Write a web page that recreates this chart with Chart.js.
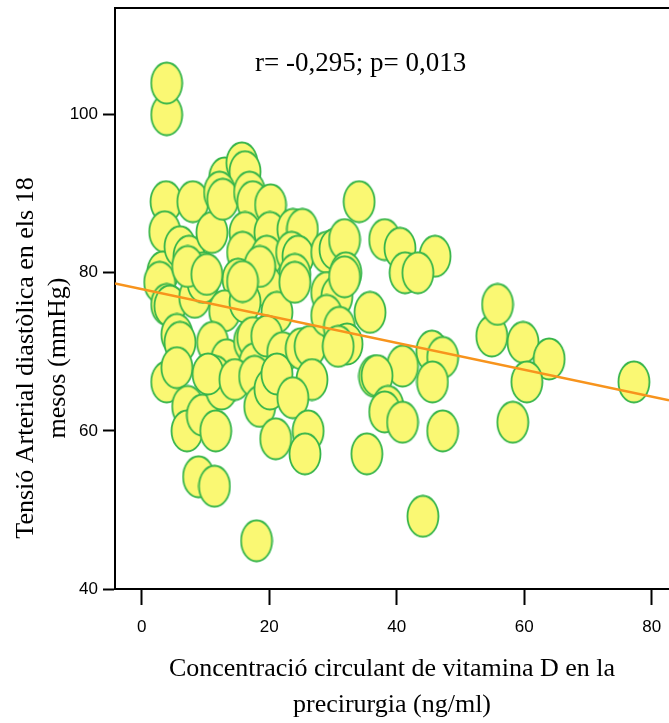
<!DOCTYPE html>
<html>
<head>
<meta charset="utf-8">
<script src="https://cdn.jsdelivr.net/npm/chart.js@4.4.0/dist/chart.umd.min.js"></script>
<style>
  html, body { margin: 0; padding: 0; background: #fff; overflow: hidden; }
  #chart { display: block; }
</style>
</head>
<body>
<canvas id="chart" width="669" height="723"></canvas>
<script>
// Vitamina D (ng/ml) i tensió diastòlica (mmHg), llegits del gràfic
const vitaminD = [
  3.9, 3.9, 3.8, 8.0, 3.6, 3.3, 6.0, 7.4, 11.0, 13.0,
  15.7, 16.2, 12.2, 12.7, 16.9, 17.4, 20.2, 16.2, 20.1, 23.7,
  25.2, 15.8, 19.6, 23.5, 24.5, 24.0, 15.1, 9.6, 19.6, 29.0,
  30.3, 31.8, 32.0, 34.1, 38.1, 40.5, 46.0, 41.3, 43.3, 29.0,
  30.6, 35.8, 2.8, 3.9, 4.4, 5.5, 6.0, 3.9, 5.5, 7.2,
  7.1, 9.5, 11.6, 8.9, 11.4, 18.0, 8.3, 9.6, 7.2, 10.2,
  13.0, 16.2, 11.1, 13.3, 11.5, 12.5, 10.4, 16.9, 17.4, 17.7,
  14.6, 17.7, 18.5, 20.1, 21.0, 21.2, 19.6, 22.1, 21.2, 25.0,
  26.4, 26.7, 23.7, 26.1, 25.6, 24.0, 18.5, 15.8, 31.8, 29.0,
  31.0, 32.2, 30.8, 36.5, 35.3, 45.5, 47.2, 40.9, 36.9, 45.6,
  38.6, 38.1, 40.9, 47.2, 44.1, 54.9, 55.8, 59.8, 63.9, 60.4,
  58.2, 77.2
];
const tensio = [
  100, 104, 89, 89, 85.2, 80.1, 83.3, 82.1, 85.1, 92,
  93.9, 92.8, 90.2, 89.3, 90.2, 89, 88.6, 85.1, 85.1, 85.5,
  85.5, 82.6, 82.1, 82.6, 82.1, 79.8, 79.2, 80.0, 78.3, 82.6,
  83.0, 84.2, 80.0, 89.0, 84.2, 83.1, 82.1, 80.0, 80.0, 77.5,
  77.0, 75.0, 78.8, 76.0, 75.8, 72.2, 71.2, 66.2, 68.0, 63.1,
  60.0, 62.0, 60.0, 54.2, 53.0, 46.1, 76.9, 78.8, 80.8, 79.8,
  75.2, 76.3, 71.2, 69.0, 66.9, 65.3, 67.2, 71.3, 71.8, 68.5,
  66.5, 66.9, 63.1, 65.3, 59.0, 75.0, 72.0, 69.9, 67.2, 70.4,
  70.7, 66.5, 64.2, 60.0, 57.1, 78.8, 80.8, 78.9, 79.5, 74.6,
  73.1, 71.0, 70.7, 66.9, 57.1, 70.1, 69.3, 68.2, 67.0, 66.2,
  63.1, 62.4, 61.1, 60.0, 49.2, 72.0, 76.0, 71.2, 69.1, 66.2,
  61.1, 66.2
];
const xTicks = [0, 20, 40, 60, 80];
const yTicks = [40, 60, 80, 100];
const regIntercept = 77.94;
const regSlope = -0.170;
const xMin = -4.2, xMax = 82.7;
const yMin = 40, yMax = 113.5;
const xTitle = ["Concentració circulant de vitamina D en la", "precirurgia (ng/ml)"];
const yTitle = ["Tensió Arterial diastòlica en els 18", "mesos (mmHg)"];
const statsText = "r= -0,295; p= 0,013";

// marcador el·líptic groc amb vora verda
function makeEllipse() {
  const c = document.createElement("canvas");
  c.width = 34;
  c.height = 44;
  const g = c.getContext("2d");
  g.beginPath();
  g.ellipse(17, 22, 15.5, 20.5, 0, 0, Math.PI * 2);
  g.fillStyle = "#FAF873";
  g.fill();
  g.lineWidth = 1.8;
  g.strokeStyle = "#36B54A";
  g.stroke();
  return c;
}

const points = vitaminD.map((v, i) => ({ x: v, y: tensio[i] }));
const regLine = [xMin, xMax].map(v => ({ x: v, y: regIntercept + regSlope * v }));

const textPlugin = {
  id: "textos",
  afterDraw(chart) {
    const ctx = chart.ctx;
    ctx.save();
    ctx.fillStyle = "#000";
    ctx.font = '27px "Liberation Serif"';
    ctx.textAlign = "left";
    ctx.textBaseline = "alphabetic";
    ctx.fillText(statsText, 255, 71);

    ctx.font = '26px "Liberation Serif"';
    ctx.textAlign = "center";
    ctx.textBaseline = "middle";
    ctx.translate(0, 358);
    ctx.rotate(-Math.PI / 2);
    yTitle.forEach((line, i) => ctx.fillText(line, 0, 26 + i * 32));
    ctx.restore();
  }
};

// sense farciment extra al voltant dels eixos
function noPad(s) {
  s.paddingLeft = 0;
  s.paddingRight = 0;
  s.paddingTop = 0;
  s.paddingBottom = 0;
}

Chart.defaults.font.family = '"Liberation Sans", Arial, sans-serif';
Chart.defaults.font.size = 17;
Chart.defaults.color = "#000";

new Chart(document.getElementById("chart"), {
  type: "scatter",
  data: {
    datasets: [
      {
        type: "line",
        data: regLine,
        borderColor: "#F7941D",
        borderWidth: 2.5,
        pointRadius: 0,
        order: 0
      },
      {
        data: points,
        pointStyle: makeEllipse(),
        order: 1
      }
    ]
  },
  options: {
    responsive: false,
    animation: false,
    events: [],
    layout: { autoPadding: false, padding: { top: 8, left: 0, right: 0, bottom: 0 } },
    plugins: { legend: { display: false }, tooltip: { enabled: false } },
    scales: {
      x: {
        type: "linear",
        min: xMin,
        max: xMax,
        afterBuildTicks: s => { s.ticks = xTicks.map(v => ({ value: v })); },
        afterFit: s => { s.height = 134; noPad(s); },
        grid: { drawOnChartArea: false, drawTicks: true, tickLength: 16, color: "#000", tickWidth: 2 },
        border: { display: true, color: "#000", width: 2 },
        ticks: { padding: 12 },
        title: {
          display: true,
          text: xTitle,
          font: { family: '"Liberation Serif"', size: 26, lineHeight: 1.385 },
          padding: { top: 0, bottom: 0 }
        }
      },
      x2: {
        type: "linear",
        position: "top",
        display: true,
        min: xMin,
        max: xMax,
        afterFit: s => { s.height = 0; noPad(s); },
        grid: { display: false },
        ticks: { display: false },
        border: { display: true, color: "#000", width: 2 }
      },
      y: {
        min: yMin,
        max: yMax,
        afterBuildTicks: s => { s.ticks = yTicks.map(v => ({ value: v })); },
        afterFit: s => { s.width = 115; noPad(s); },
        grid: { drawOnChartArea: false, drawTicks: true, tickLength: 12, color: "#000", tickWidth: 2 },
        border: { display: true, color: "#000", width: 2 },
        ticks: { padding: 5 }
      }
    }
  },
  plugins: [textPlugin]
});
</script>
</body>
</html>
